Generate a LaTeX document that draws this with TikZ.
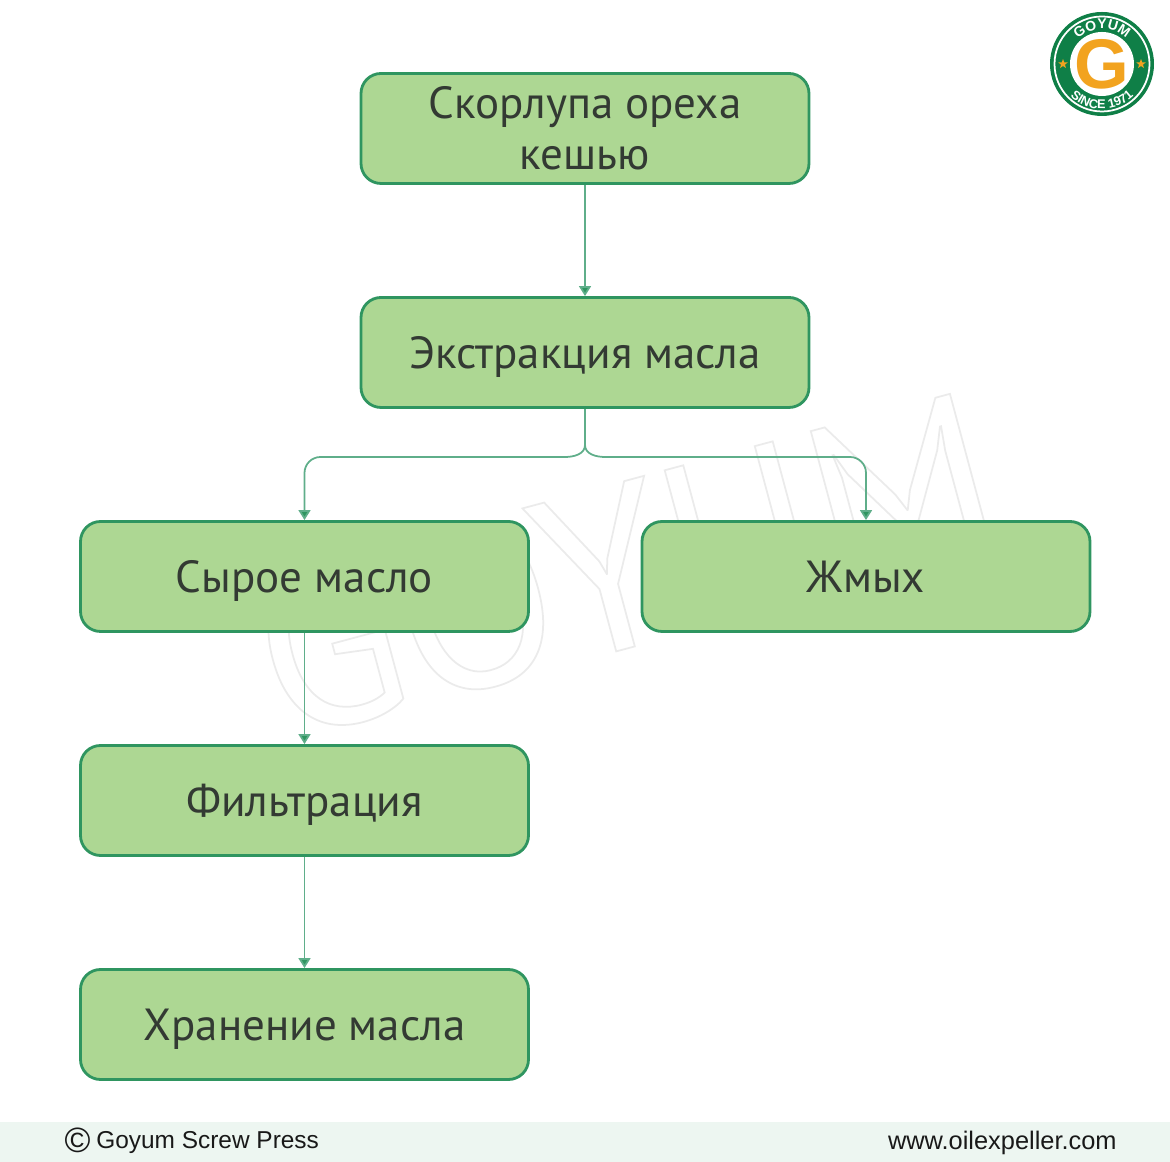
\documentclass[tikz,border=0pt]{standalone}
\usepackage{fontspec}
\setmainfont{PT Sans}
\newfontfamily\footfont{Liberation Sans}
\newfontfamily\logofont{Liberation Sans}
\usetikzlibrary{arrows.meta,decorations.text,shapes.geometric}
\definecolor{boxfill}{HTML}{ADD793}
\definecolor{boxline}{HTML}{2F9560}
\definecolor{linkline}{HTML}{5FAE8A}
\definecolor{logogreen}{HTML}{0F7F47}
\definecolor{logoorange}{HTML}{F2A31F}
\definecolor{footbar}{HTML}{EDF6F1}
\definecolor{boxtext}{HTML}{333A33}

\begin{document}
\begin{tikzpicture}
	\tikzstyle{stage}=[draw=boxline,fill=boxfill,line width=1.6pt,rounded corners=0.4cm,minimum width=8.96cm,minimum height=2.2cm,align=center,text=boxtext,font=\fontsize{25.6}{29}\selectfont]
	\tikzstyle{single}=[stage,text height=0.63cm,text depth=0cm]
	\tikzstyle{link}=[draw=linkline,line width=1pt,-{Triangle[length=0.2cm,width=0.24cm,fill=boxline]}]
	\tikzstyle{foot}=[text=black!90,inner sep=0pt]
	\tikzstyle{logostar}=[star,star points=5,star point ratio=2.4,fill=logoorange,minimum size=0.2cm,inner sep=0pt]
	\useasboundingbox (0,0) rectangle (23.4,23.24);

	% footer
	\fill[footbar] (0,0) rectangle (23.4,0.8);
	\node[foot,font=\footfont\fontsize{20}{20}\selectfont](copy) at (1.55,0.44){©};
	\node[foot,anchor=west,font=\footfont\fontsize{13.9}{17}\selectfont](owner) at (1.92,0.39){Goyum Screw Press};
	\node[foot,anchor=east,font=\footfont\fontsize{14.45}{17}\selectfont](site) at (22.34,0.39){www.oilexpeller.com};

	% watermark
	\node[rotate=15,text=black!8,font=\fontsize{132}{132}\selectfont](mark) at (12.5,11.94){\special{pdf:code 1 Tr 1 w}GOYUM\special{pdf:code 0 Tr}};

	\node[stage](shell) at (11.7,20.67){Скорлупа ореха\\кешью};
	\node[single](extract) at (11.7,16.19){Экстракция масла};
	\node[single](crude) at (6.09,11.71){Сырое масло};
	\node[single](cake) at (17.32,11.71){Жмых};
	\node[single](filter) at (6.09,7.23){Фильтрация};
	\node[single](store) at (6.09,2.75){Хранение масла};

	\coordinate (fork) at (11.7,14.34);
	\coordinate (forkl) at (11.3,14.1);
	\coordinate (forkr) at (12.1,14.1);

	\draw[link] (shell) -- (extract);
	\draw[link] (crude) -- (filter);
	\draw[link] (filter) -- (store);
	\draw[draw=linkline,line width=1pt] (extract) -- (fork);
	\draw[link] (fork) to[out=-90,in=0] (forkl) [rounded corners=0.32cm] -| (crude);
	\draw[link] (fork) to[out=-90,in=180] (forkr) [rounded corners=0.32cm] -| (cake);

	% logo
	\fill[logogreen] (22.04,21.96) coordinate (logo) circle (1.04);
	\draw[white,line width=1pt] (logo) circle (0.95);
	\fill[white] (logo) circle (0.64);
	\node[text=logoorange,font=\logofont\bfseries\fontsize{40}{40}\selectfont,inner sep=0pt](letter) at (logo){G};
	\node[logostar](star1) at (21.26,21.96){};
	\node[logostar](star2) at (22.82,21.96){};
	\path[decorate,decoration={text along path,text align=center,text={|\logofont\bfseries\fontsize{8}{10}\selectfont\color{white}|GOYUM}}] (logo) ++(165:0.7) arc[start angle=165,end angle=15,radius=0.7];
	\path[decorate,decoration={text along path,text align=center,text={|\logofont\bfseries\fontsize{7.2}{10}\selectfont\color{white}|SINCE 1971}}] (logo) ++(190:0.9) arc[start angle=190,end angle=350,radius=0.9];
\end{tikzpicture}
\end{document}
